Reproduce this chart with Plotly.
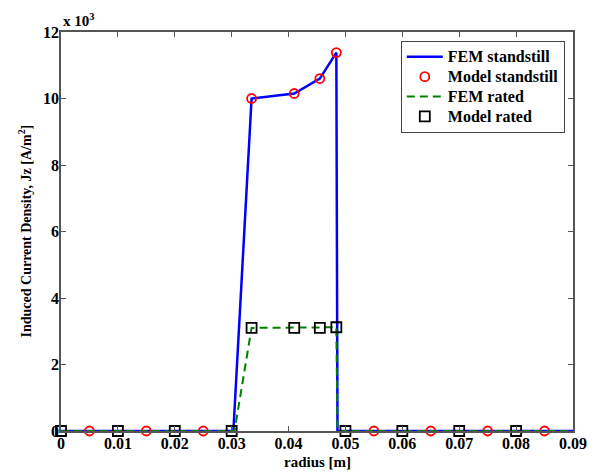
import plotly.graph_objects as go

# FEM standstill curve
fem_ss_x = [0.0, 0.0303, 0.0335, 0.041, 0.0455, 0.0484, 0.0486, 0.09]
fem_ss_y = [0, 0, 10000, 10150, 10600, 11380, 0, 0]

# Model standstill points
mod_ss_x = [0.005, 0.015, 0.025, 0.0335, 0.041, 0.0455, 0.0484, 0.055, 0.065, 0.075, 0.085]
mod_ss_y = [0, 0, 0, 10000, 10150, 10600, 11380, 0, 0, 0, 0]

# FEM rated curve
fem_r_x = [0.0, 0.0305, 0.0335, 0.041, 0.0455, 0.0484, 0.0486, 0.09]
fem_r_y = [0, 0, 3100, 3100, 3100, 3120, 0, 0]

# Model rated points
mod_r_x = [0.0, 0.01, 0.02, 0.03, 0.0335, 0.041, 0.0455, 0.0484, 0.05, 0.06, 0.07, 0.08]
mod_r_y = [0, 0, 0, 0, 3100, 3100, 3100, 3120, 0, 0, 0, 0]

x_ticks = [0, 0.01, 0.02, 0.03, 0.04, 0.05, 0.06, 0.07, 0.08, 0.09]
x_labels = ["0", "0.01", "0.02", "0.03", "0.04", "0.05", "0.06", "0.07", "0.08", "0.09"]
y_ticks = [0, 2000, 4000, 6000, 8000, 10000, 12000]
y_labels = ["0", "2", "4", "6", "8", "10", "12"]

series_names = ["FEM standstill", "Model standstill", "FEM rated", "Model rated"]

SERIF = "Liberation Serif"


def lname(s):
    return '<span style="font-size:16px"><b>%s</b></span>' % s


fig = go.Figure()
fig.add_trace(go.Scatter(x=fem_ss_x, y=fem_ss_y, mode="lines", name=lname(series_names[0]),
                         line=dict(color="#0000ff", width=2.5), cliponaxis=False))
fig.add_trace(go.Scatter(x=mod_ss_x, y=mod_ss_y, mode="markers", name=lname(series_names[1]),
                         marker=dict(symbol="circle-open", size=9, color="#ff0000", line=dict(width=1.8)),
                         cliponaxis=False))
fig.add_trace(go.Scatter(x=fem_r_x, y=fem_r_y, mode="lines", name=lname(series_names[2]),
                         line=dict(color="#008000", width=2, dash="8px,5px"), cliponaxis=False))
fig.add_trace(go.Scatter(x=mod_r_x, y=mod_r_y, mode="markers", name=lname(series_names[3]),
                         marker=dict(symbol="square-open", size=10, color="black", line=dict(width=1.8)),
                         cliponaxis=False))

axis_common = dict(showline=True, linecolor="#555555", linewidth=1.5, mirror="ticks",
                   ticks="inside", ticklen=5, tickcolor="#555555", showgrid=False, zeroline=False,
                   automargin=False,
                   tickfont=dict(family=SERIF, size=16, color="black"))

fig.update_xaxes(range=[0, 0.09], tickvals=x_ticks, ticktext=["<b>%s</b>" % t for t in x_labels],
                 ticklabelstandoff=-3, **axis_common)
fig.update_yaxes(range=[0, 12000], tickvals=y_ticks, ticktext=["<b>%s</b>" % t for t in y_labels],
                 ticklabelstandoff=-3, **axis_common)

# axis titles
fig.add_annotation(text="<b>radius [m]</b>", xref="paper", yref="paper", x=0.5, y=0,
                   xanchor="center", yanchor="middle", yshift=-31, showarrow=False,
                   font=dict(family=SERIF, size=15, color="black"))
fig.add_annotation(text="<b>Induced Current Density, Jz [A/m<sup>2</sup>]</b>", xref="paper", yref="paper",
                   x=0, y=0.5, xanchor="center", yanchor="middle", xshift=-36, textangle=-90,
                   showarrow=False, font=dict(family=SERIF, size=14, color="black"))
# exponent label
fig.add_annotation(text="<b>x 10<sup>3</sup></b>", xref="paper", yref="paper", x=0, y=1.0,
                   xanchor="left", yanchor="bottom", showarrow=False,
                   font=dict(family=SERIF, size=15, color="black"), yshift=1)

# page body has an 8px margin, so the figure is drawn 8px smaller than the window
fig.update_layout(
    width=597, height=465,
    margin=dict(l=53, r=32, t=24, b=42),
    paper_bgcolor="white", plot_bgcolor="white",
    font=dict(family=SERIF, size=14, color="black"),
    showlegend=True,
    legend=dict(x=0.984, y=0.978, xanchor="right", yanchor="top",
                bordercolor="#444444", borderwidth=1, bgcolor="white",
                font=dict(family=SERIF, size=13, color="black"),
                tracegroupgap=0, itemwidth=36),
)

fig.write_html("out.html")
